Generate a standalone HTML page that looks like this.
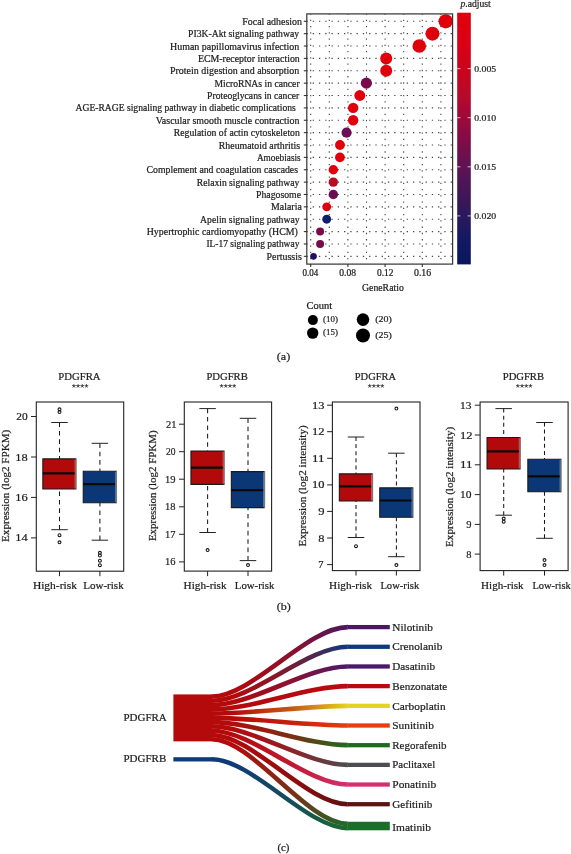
<!DOCTYPE html>
<html><head><meta charset="utf-8"><style>
html,body{margin:0;padding:0;background:#fff;width:571px;height:854px;overflow:hidden}
svg{display:block;font-family:"Liberation Serif", serif;will-change:transform}
</style></head><body>
<svg width="571" height="854" viewBox="0 0 571 854" font-family='"Liberation Serif", serif'><defs><linearGradient id="cb" x1="0" y1="0" x2="0" y2="1"><stop offset="0" stop-color="#e0000e"/><stop offset="0.11" stop-color="#dc0014"/><stop offset="0.22" stop-color="#cc041c"/><stop offset="0.32" stop-color="#b80a2a"/><stop offset="0.42" stop-color="#9c0a3a"/><stop offset="0.51" stop-color="#800c48"/><stop offset="0.61" stop-color="#601254"/><stop offset="0.71" stop-color="#441658"/><stop offset="0.81" stop-color="#2a185c"/><stop offset="0.9" stop-color="#141862"/><stop offset="1" stop-color="#08165e"/></linearGradient><linearGradient id="g0" gradientUnits="userSpaceOnUse" x1="212.0" y1="0" x2="347.5" y2="0"><stop offset="0" stop-color="#b40a0c"/><stop offset="0.15" stop-color="#b40a0c"/><stop offset="0.6" stop-color="#8a102e"/><stop offset="1" stop-color="#4a1862"/></linearGradient><linearGradient id="g1" gradientUnits="userSpaceOnUse" x1="212.0" y1="0" x2="347.5" y2="0"><stop offset="0" stop-color="#b40a0c"/><stop offset="0.15" stop-color="#b40a0c"/><stop offset="0.6" stop-color="#721d38"/><stop offset="1" stop-color="#0e3a7a"/></linearGradient><linearGradient id="g2" gradientUnits="userSpaceOnUse" x1="212.0" y1="0" x2="347.5" y2="0"><stop offset="0" stop-color="#b40a0c"/><stop offset="0.15" stop-color="#b40a0c"/><stop offset="0.6" stop-color="#8a1032"/><stop offset="1" stop-color="#4a1a6a"/></linearGradient><linearGradient id="g3" gradientUnits="userSpaceOnUse" x1="212.0" y1="0" x2="347.5" y2="0"><stop offset="0" stop-color="#b40a0c"/><stop offset="0.15" stop-color="#b40a0c"/><stop offset="0.6" stop-color="#b60a0e"/><stop offset="1" stop-color="#b80a10"/></linearGradient><linearGradient id="g4" gradientUnits="userSpaceOnUse" x1="212.0" y1="0" x2="347.5" y2="0"><stop offset="0" stop-color="#b40a0c"/><stop offset="0.15" stop-color="#b40a0c"/><stop offset="0.6" stop-color="#c65b13"/><stop offset="1" stop-color="#e2d41e"/></linearGradient><linearGradient id="g5" gradientUnits="userSpaceOnUse" x1="212.0" y1="0" x2="347.5" y2="0"><stop offset="0" stop-color="#b40a0c"/><stop offset="0.15" stop-color="#b40a0c"/><stop offset="0.6" stop-color="#ca1e0e"/><stop offset="1" stop-color="#ea3c10"/></linearGradient><linearGradient id="g6" gradientUnits="userSpaceOnUse" x1="212.0" y1="0" x2="347.5" y2="0"><stop offset="0" stop-color="#b40a0c"/><stop offset="0.15" stop-color="#b40a0c"/><stop offset="0.6" stop-color="#773112"/><stop offset="1" stop-color="#1c6c1c"/></linearGradient><linearGradient id="g7" gradientUnits="userSpaceOnUse" x1="212.0" y1="0" x2="347.5" y2="0"><stop offset="0" stop-color="#b40a0c"/><stop offset="0.15" stop-color="#b40a0c"/><stop offset="0.6" stop-color="#8a2428"/><stop offset="1" stop-color="#4c4c52"/></linearGradient><linearGradient id="g8" gradientUnits="userSpaceOnUse" x1="212.0" y1="0" x2="347.5" y2="0"><stop offset="0" stop-color="#b40a0c"/><stop offset="0.15" stop-color="#b40a0c"/><stop offset="0.6" stop-color="#c11933"/><stop offset="1" stop-color="#d4306e"/></linearGradient><linearGradient id="g9" gradientUnits="userSpaceOnUse" x1="212.0" y1="0" x2="347.5" y2="0"><stop offset="0" stop-color="#b40a0c"/><stop offset="0.15" stop-color="#b40a0c"/><stop offset="0.6" stop-color="#910d0e"/><stop offset="1" stop-color="#5c1210"/></linearGradient><linearGradient id="g10" gradientUnits="userSpaceOnUse" x1="212.0" y1="0" x2="347.5" y2="0"><stop offset="0" stop-color="#b40a0c"/><stop offset="0.15" stop-color="#b40a0c"/><stop offset="0.6" stop-color="#773118"/><stop offset="1" stop-color="#1c6c2a"/></linearGradient><linearGradient id="gb" gradientUnits="userSpaceOnUse" x1="212.0" y1="0" x2="347.5" y2="0"><stop offset="0" stop-color="#0e3a78"/><stop offset="0.15" stop-color="#0e3a78"/><stop offset="0.6" stop-color="#144e59"/><stop offset="1" stop-color="#1c6c2a"/></linearGradient></defs><line x1="310.70" y1="264.1" x2="310.70" y2="13.9" stroke="#444" stroke-width="1.1" stroke-dasharray="1.3 4.97" stroke-dashoffset="1.4"/>
<line x1="329.30" y1="264.1" x2="329.30" y2="13.9" stroke="#444" stroke-width="1.1" stroke-dasharray="1.3 4.97" stroke-dashoffset="1.4"/>
<line x1="347.90" y1="264.1" x2="347.90" y2="13.9" stroke="#444" stroke-width="1.1" stroke-dasharray="1.3 4.97" stroke-dashoffset="1.4"/>
<line x1="366.50" y1="264.1" x2="366.50" y2="13.9" stroke="#444" stroke-width="1.1" stroke-dasharray="1.3 4.97" stroke-dashoffset="1.4"/>
<line x1="385.10" y1="264.1" x2="385.10" y2="13.9" stroke="#444" stroke-width="1.1" stroke-dasharray="1.3 4.97" stroke-dashoffset="1.4"/>
<line x1="403.70" y1="264.1" x2="403.70" y2="13.9" stroke="#444" stroke-width="1.1" stroke-dasharray="1.3 4.97" stroke-dashoffset="1.4"/>
<line x1="422.30" y1="264.1" x2="422.30" y2="13.9" stroke="#444" stroke-width="1.1" stroke-dasharray="1.3 4.97" stroke-dashoffset="1.4"/>
<line x1="440.90" y1="264.1" x2="440.90" y2="13.9" stroke="#444" stroke-width="1.1" stroke-dasharray="1.3 4.97" stroke-dashoffset="1.4"/>
<line x1="306.8" y1="21.30" x2="452.6" y2="21.30" stroke="#444" stroke-width="1.1" stroke-dasharray="1.3 4.97" stroke-dashoffset="0.4"/>
<line x1="306.8" y1="33.67" x2="452.6" y2="33.67" stroke="#444" stroke-width="1.1" stroke-dasharray="1.3 4.97" stroke-dashoffset="0.4"/>
<line x1="306.8" y1="46.04" x2="452.6" y2="46.04" stroke="#444" stroke-width="1.1" stroke-dasharray="1.3 4.97" stroke-dashoffset="0.4"/>
<line x1="306.8" y1="58.41" x2="452.6" y2="58.41" stroke="#444" stroke-width="1.1" stroke-dasharray="1.3 4.97" stroke-dashoffset="0.4"/>
<line x1="306.8" y1="70.78" x2="452.6" y2="70.78" stroke="#444" stroke-width="1.1" stroke-dasharray="1.3 4.97" stroke-dashoffset="0.4"/>
<line x1="306.8" y1="83.15" x2="452.6" y2="83.15" stroke="#444" stroke-width="1.1" stroke-dasharray="1.3 4.97" stroke-dashoffset="0.4"/>
<line x1="306.8" y1="95.52" x2="452.6" y2="95.52" stroke="#444" stroke-width="1.1" stroke-dasharray="1.3 4.97" stroke-dashoffset="0.4"/>
<line x1="306.8" y1="107.89" x2="452.6" y2="107.89" stroke="#444" stroke-width="1.1" stroke-dasharray="1.3 4.97" stroke-dashoffset="0.4"/>
<line x1="306.8" y1="120.26" x2="452.6" y2="120.26" stroke="#444" stroke-width="1.1" stroke-dasharray="1.3 4.97" stroke-dashoffset="0.4"/>
<line x1="306.8" y1="132.63" x2="452.6" y2="132.63" stroke="#444" stroke-width="1.1" stroke-dasharray="1.3 4.97" stroke-dashoffset="0.4"/>
<line x1="306.8" y1="145.00" x2="452.6" y2="145.00" stroke="#444" stroke-width="1.1" stroke-dasharray="1.3 4.97" stroke-dashoffset="0.4"/>
<line x1="306.8" y1="157.37" x2="452.6" y2="157.37" stroke="#444" stroke-width="1.1" stroke-dasharray="1.3 4.97" stroke-dashoffset="0.4"/>
<line x1="306.8" y1="169.74" x2="452.6" y2="169.74" stroke="#444" stroke-width="1.1" stroke-dasharray="1.3 4.97" stroke-dashoffset="0.4"/>
<line x1="306.8" y1="182.11" x2="452.6" y2="182.11" stroke="#444" stroke-width="1.1" stroke-dasharray="1.3 4.97" stroke-dashoffset="0.4"/>
<line x1="306.8" y1="194.48" x2="452.6" y2="194.48" stroke="#444" stroke-width="1.1" stroke-dasharray="1.3 4.97" stroke-dashoffset="0.4"/>
<line x1="306.8" y1="206.85" x2="452.6" y2="206.85" stroke="#444" stroke-width="1.1" stroke-dasharray="1.3 4.97" stroke-dashoffset="0.4"/>
<line x1="306.8" y1="219.22" x2="452.6" y2="219.22" stroke="#444" stroke-width="1.1" stroke-dasharray="1.3 4.97" stroke-dashoffset="0.4"/>
<line x1="306.8" y1="231.59" x2="452.6" y2="231.59" stroke="#444" stroke-width="1.1" stroke-dasharray="1.3 4.97" stroke-dashoffset="0.4"/>
<line x1="306.8" y1="243.96" x2="452.6" y2="243.96" stroke="#444" stroke-width="1.1" stroke-dasharray="1.3 4.97" stroke-dashoffset="0.4"/>
<line x1="306.8" y1="256.33" x2="452.6" y2="256.33" stroke="#444" stroke-width="1.1" stroke-dasharray="1.3 4.97" stroke-dashoffset="0.4"/>
<circle cx="445.70" cy="21.30" r="7.15" fill="#e0000c"/>
<circle cx="432.48" cy="33.67" r="7.0" fill="#e0000c"/>
<circle cx="419.26" cy="46.04" r="6.8" fill="#e0000c"/>
<circle cx="386.21" cy="58.41" r="6.0" fill="#e0000c"/>
<circle cx="386.21" cy="70.78" r="6.0" fill="#e0000c"/>
<circle cx="366.38" cy="83.15" r="5.6" fill="#760a4a"/>
<circle cx="359.77" cy="95.52" r="5.45" fill="#e0000c"/>
<circle cx="353.16" cy="107.89" r="5.2" fill="#e0000c"/>
<circle cx="353.16" cy="120.26" r="5.2" fill="#e0000c"/>
<circle cx="346.55" cy="132.63" r="5.05" fill="#6a1054"/>
<circle cx="339.94" cy="145.00" r="4.9" fill="#e0000c"/>
<circle cx="339.94" cy="157.37" r="4.9" fill="#e0000c"/>
<circle cx="333.33" cy="169.74" r="4.7" fill="#e0000c"/>
<circle cx="333.33" cy="182.11" r="4.7" fill="#b80a22"/>
<circle cx="333.33" cy="194.48" r="4.7" fill="#6a0c52"/>
<circle cx="326.72" cy="206.85" r="4.45" fill="#e0000c"/>
<circle cx="326.72" cy="219.22" r="4.45" fill="#0c1f6e"/>
<circle cx="320.11" cy="231.59" r="4.0" fill="#760c4a"/>
<circle cx="320.11" cy="243.96" r="4.0" fill="#760c4a"/>
<circle cx="313.50" cy="256.33" r="3.35" fill="#22125e"/>
<rect x="306.8" y="13.9" width="145.80" height="250.20" fill="none" stroke="#333" stroke-width="1.2"/>
<line x1="303.8" y1="21.30" x2="306.8" y2="21.30" stroke="#333" stroke-width="1.1"/>
<text id="ra0" x="242.30" y="24.80" font-size="9.6" fill="#1e1e1e" stroke="#1e1e1e" stroke-width="0.22" textLength="59.60" lengthAdjust="spacingAndGlyphs" >Focal adhesion</text>
<line x1="303.8" y1="33.67" x2="306.8" y2="33.67" stroke="#333" stroke-width="1.1"/>
<text id="ra1" x="188.10" y="37.17" font-size="9.6" fill="#1e1e1e" stroke="#1e1e1e" stroke-width="0.22" textLength="110.90" lengthAdjust="spacingAndGlyphs" >PI3K-Akt signaling pathway</text>
<line x1="303.8" y1="46.04" x2="306.8" y2="46.04" stroke="#333" stroke-width="1.1"/>
<text id="ra2" x="170.00" y="49.54" font-size="9.6" fill="#1e1e1e" stroke="#1e1e1e" stroke-width="0.22" textLength="129.20" lengthAdjust="spacingAndGlyphs" >Human papillomavirus infection</text>
<line x1="303.8" y1="58.41" x2="306.8" y2="58.41" stroke="#333" stroke-width="1.1"/>
<text id="ra3" x="197.90" y="61.91" font-size="9.6" fill="#1e1e1e" stroke="#1e1e1e" stroke-width="0.22" textLength="101.90" lengthAdjust="spacingAndGlyphs" >ECM-receptor interaction</text>
<line x1="303.8" y1="70.78" x2="306.8" y2="70.78" stroke="#333" stroke-width="1.1"/>
<text id="ra4" x="170.00" y="74.28" font-size="9.6" fill="#1e1e1e" stroke="#1e1e1e" stroke-width="0.22" textLength="129.20" lengthAdjust="spacingAndGlyphs" >Protein digestion and absorption</text>
<line x1="303.8" y1="83.15" x2="306.8" y2="83.15" stroke="#333" stroke-width="1.1"/>
<text id="ra5" x="214.40" y="86.65" font-size="9.6" fill="#1e1e1e" stroke="#1e1e1e" stroke-width="0.22" textLength="85.20" lengthAdjust="spacingAndGlyphs" >MicroRNAs in cancer</text>
<line x1="303.8" y1="95.52" x2="306.8" y2="95.52" stroke="#333" stroke-width="1.1"/>
<text id="ra6" x="207.10" y="99.02" font-size="9.6" fill="#1e1e1e" stroke="#1e1e1e" stroke-width="0.22" textLength="92.10" lengthAdjust="spacingAndGlyphs" >Proteoglycans in cancer</text>
<line x1="303.8" y1="107.89" x2="306.8" y2="107.89" stroke="#333" stroke-width="1.1"/>
<text id="ra7" x="75.60" y="111.39" font-size="9.6" fill="#1e1e1e" stroke="#1e1e1e" stroke-width="0.22" textLength="220.10" lengthAdjust="spacingAndGlyphs" >AGE-RAGE signaling pathway in diabetic complications</text>
<line x1="303.8" y1="120.26" x2="306.8" y2="120.26" stroke="#333" stroke-width="1.1"/>
<text id="ra8" x="155.80" y="123.76" font-size="9.6" fill="#1e1e1e" stroke="#1e1e1e" stroke-width="0.22" textLength="143.60" lengthAdjust="spacingAndGlyphs" >Vascular smooth muscle contraction</text>
<line x1="303.8" y1="132.63" x2="306.8" y2="132.63" stroke="#333" stroke-width="1.1"/>
<text id="ra9" x="173.80" y="136.13" font-size="9.6" fill="#1e1e1e" stroke="#1e1e1e" stroke-width="0.22" textLength="126.00" lengthAdjust="spacingAndGlyphs" >Regulation of actin cytoskeleton</text>
<line x1="303.8" y1="145.00" x2="306.8" y2="145.00" stroke="#333" stroke-width="1.1"/>
<text id="ra10" x="218.80" y="148.50" font-size="9.6" fill="#1e1e1e" stroke="#1e1e1e" stroke-width="0.22" textLength="81.20" lengthAdjust="spacingAndGlyphs" >Rheumatoid arthritis</text>
<line x1="303.8" y1="157.37" x2="306.8" y2="157.37" stroke="#333" stroke-width="1.1"/>
<text id="ra11" x="256.90" y="160.87" font-size="9.6" fill="#1e1e1e" stroke="#1e1e1e" stroke-width="0.22" textLength="43.80" lengthAdjust="spacingAndGlyphs" >Amoebiasis</text>
<line x1="303.8" y1="169.74" x2="306.8" y2="169.74" stroke="#333" stroke-width="1.1"/>
<text id="ra12" x="146.60" y="173.24" font-size="9.6" fill="#1e1e1e" stroke="#1e1e1e" stroke-width="0.22" textLength="151.40" lengthAdjust="spacingAndGlyphs" >Complement and coagulation cascades</text>
<line x1="303.8" y1="182.11" x2="306.8" y2="182.11" stroke="#333" stroke-width="1.1"/>
<text id="ra13" x="196.80" y="185.61" font-size="9.6" fill="#1e1e1e" stroke="#1e1e1e" stroke-width="0.22" textLength="102.60" lengthAdjust="spacingAndGlyphs" >Relaxin signaling pathway</text>
<line x1="303.8" y1="194.48" x2="306.8" y2="194.48" stroke="#333" stroke-width="1.1"/>
<text id="ra14" x="256.00" y="197.98" font-size="9.6" fill="#1e1e1e" stroke="#1e1e1e" stroke-width="0.22" textLength="45.00" lengthAdjust="spacingAndGlyphs" >Phagosome</text>
<line x1="303.8" y1="206.85" x2="306.8" y2="206.85" stroke="#333" stroke-width="1.1"/>
<text id="ra15" x="271.10" y="210.35" font-size="9.6" fill="#1e1e1e" stroke="#1e1e1e" stroke-width="0.22" textLength="30.70" lengthAdjust="spacingAndGlyphs" >Malaria</text>
<line x1="303.8" y1="219.22" x2="306.8" y2="219.22" stroke="#333" stroke-width="1.1"/>
<text id="ra16" x="200.10" y="222.72" font-size="9.6" fill="#1e1e1e" stroke="#1e1e1e" stroke-width="0.22" textLength="99.50" lengthAdjust="spacingAndGlyphs" >Apelin signaling pathway</text>
<line x1="303.8" y1="231.59" x2="306.8" y2="231.59" stroke="#333" stroke-width="1.1"/>
<text id="ra17" x="146.70" y="235.09" font-size="9.6" fill="#1e1e1e" stroke="#1e1e1e" stroke-width="0.22" textLength="151.20" lengthAdjust="spacingAndGlyphs" >Hypertrophic cardiomyopathy (HCM)</text>
<line x1="303.8" y1="243.96" x2="306.8" y2="243.96" stroke="#333" stroke-width="1.1"/>
<text id="ra18" x="206.40" y="247.46" font-size="9.6" fill="#1e1e1e" stroke="#1e1e1e" stroke-width="0.22" textLength="93.00" lengthAdjust="spacingAndGlyphs" >IL-17 signaling pathway</text>
<line x1="303.8" y1="256.33" x2="306.8" y2="256.33" stroke="#333" stroke-width="1.1"/>
<text id="ra19" x="266.50" y="259.83" font-size="9.6" fill="#1e1e1e" stroke="#1e1e1e" stroke-width="0.22" textLength="35.30" lengthAdjust="spacingAndGlyphs" >Pertussis</text>
<line x1="310.70" y1="264.1" x2="310.70" y2="267.1" stroke="#333" stroke-width="1.1"/>
<text id="xt0" x="302.60" y="276.40" font-size="9.6" fill="#1e1e1e" stroke="#1e1e1e" stroke-width="0.22" textLength="15.80" lengthAdjust="spacingAndGlyphs" >0.04</text>
<line x1="347.90" y1="264.1" x2="347.90" y2="267.1" stroke="#333" stroke-width="1.1"/>
<text id="xt1" x="339.30" y="276.40" font-size="9.6" fill="#1e1e1e" stroke="#1e1e1e" stroke-width="0.22" textLength="16.80" lengthAdjust="spacingAndGlyphs" >0.08</text>
<line x1="385.10" y1="264.1" x2="385.10" y2="267.1" stroke="#333" stroke-width="1.1"/>
<text id="xt2" x="377.00" y="276.40" font-size="9.6" fill="#1e1e1e" stroke="#1e1e1e" stroke-width="0.22" textLength="16.50" lengthAdjust="spacingAndGlyphs" >0.12</text>
<line x1="422.30" y1="264.1" x2="422.30" y2="267.1" stroke="#333" stroke-width="1.1"/>
<text id="xt3" x="414.00" y="276.40" font-size="9.6" fill="#1e1e1e" stroke="#1e1e1e" stroke-width="0.22" textLength="17.20" lengthAdjust="spacingAndGlyphs" >0.16</text>
<text id="gr" x="362.00" y="290.90" font-size="9.6" fill="#1e1e1e" stroke="#1e1e1e" stroke-width="0.22" textLength="41.80" lengthAdjust="spacingAndGlyphs" >GeneRatio</text>
<rect x="457.2" y="12.7" width="13.6" height="251.70" fill="url(#cb)"/>
<line x1="457.2" y1="68.6" x2="460.4" y2="68.6" stroke="#fff" stroke-width="0.9" opacity="0.8"/>
<line x1="467.6" y1="68.6" x2="470.8" y2="68.6" stroke="#fff" stroke-width="0.9" opacity="0.8"/>
<text id="cb0" x="474.20" y="72.00" font-size="9.0" fill="#1e1e1e" stroke="#1e1e1e" stroke-width="0.22" textLength="22.00" lengthAdjust="spacingAndGlyphs" >0.005</text>
<line x1="457.2" y1="117.7" x2="460.4" y2="117.7" stroke="#fff" stroke-width="0.9" opacity="0.8"/>
<line x1="467.6" y1="117.7" x2="470.8" y2="117.7" stroke="#fff" stroke-width="0.9" opacity="0.8"/>
<text id="cb1" x="474.20" y="121.10" font-size="9.0" fill="#1e1e1e" stroke="#1e1e1e" stroke-width="0.22" textLength="22.00" lengthAdjust="spacingAndGlyphs" >0.010</text>
<line x1="457.2" y1="166.8" x2="460.4" y2="166.8" stroke="#fff" stroke-width="0.9" opacity="0.8"/>
<line x1="467.6" y1="166.8" x2="470.8" y2="166.8" stroke="#fff" stroke-width="0.9" opacity="0.8"/>
<text id="cb2" x="474.20" y="170.20" font-size="9.0" fill="#1e1e1e" stroke="#1e1e1e" stroke-width="0.22" textLength="22.00" lengthAdjust="spacingAndGlyphs" >0.015</text>
<line x1="457.2" y1="215.9" x2="460.4" y2="215.9" stroke="#fff" stroke-width="0.9" opacity="0.8"/>
<line x1="467.6" y1="215.9" x2="470.8" y2="215.9" stroke="#fff" stroke-width="0.9" opacity="0.8"/>
<text id="cb3" x="474.20" y="219.30" font-size="9.0" fill="#1e1e1e" stroke="#1e1e1e" stroke-width="0.22" textLength="22.00" lengthAdjust="spacingAndGlyphs" >0.020</text>
<text id="padj" x="460.50" y="6.80" font-size="9.8" fill="#1e1e1e" stroke="#1e1e1e" stroke-width="0.22" textLength="30.30" lengthAdjust="spacingAndGlyphs" ><tspan font-style="italic">p</tspan>.adjust</text>
<text id="count" x="306.60" y="309.00" font-size="9.6" fill="#1e1e1e" stroke="#1e1e1e" stroke-width="0.22" textLength="25.50" lengthAdjust="spacingAndGlyphs" >Count</text>
<circle cx="312.9" cy="320.1" r="5.0" fill="#000"/>
<text id="lg0" x="323.10" y="322.30" font-size="9.0" fill="#1e1e1e" stroke="#1e1e1e" stroke-width="0.22" textLength="14.90" lengthAdjust="spacingAndGlyphs" >(10)</text>
<circle cx="312.7" cy="333.1" r="5.7" fill="#000"/>
<text id="lg1" x="323.10" y="335.30" font-size="9.0" fill="#1e1e1e" stroke="#1e1e1e" stroke-width="0.22" textLength="14.90" lengthAdjust="spacingAndGlyphs" >(15)</text>
<circle cx="363.0" cy="319.6" r="6.3" fill="#000"/>
<text id="lg2" x="375.30" y="321.80" font-size="9.0" fill="#1e1e1e" stroke="#1e1e1e" stroke-width="0.22" textLength="16.60" lengthAdjust="spacingAndGlyphs" >(20)</text>
<circle cx="363.0" cy="335.5" r="7.0" fill="#000"/>
<text id="lg3" x="375.30" y="337.70" font-size="9.0" fill="#1e1e1e" stroke="#1e1e1e" stroke-width="0.22" textLength="16.60" lengthAdjust="spacingAndGlyphs" >(25)</text>
<text id="pa" x="276.80" y="359.60" font-size="11.3" fill="#1e1e1e" stroke="#1e1e1e" stroke-width="0.22" textLength="13.40" lengthAdjust="spacingAndGlyphs" >(a)</text>
<text id="t0" x="58.30" y="379.70" font-size="10.6" fill="#1e1e1e" stroke="#1e1e1e" stroke-width="0.22" textLength="42.30" lengthAdjust="spacingAndGlyphs" >PDGFRA</text>
<path d="M73.85,386.00L73.85,384.45M73.85,386.00L75.32,385.52M73.85,386.00L74.76,387.25M73.85,386.00L72.94,387.25M73.85,386.00L72.38,385.52" stroke="#3a3a3a" stroke-width="0.85" stroke-linecap="round" fill="none"/>
<path d="M78.05,386.00L78.05,384.45M78.05,386.00L79.52,385.52M78.05,386.00L78.96,387.25M78.05,386.00L77.14,387.25M78.05,386.00L76.58,385.52" stroke="#3a3a3a" stroke-width="0.85" stroke-linecap="round" fill="none"/>
<path d="M82.25,386.00L82.25,384.45M82.25,386.00L83.72,385.52M82.25,386.00L83.16,387.25M82.25,386.00L81.34,387.25M82.25,386.00L80.78,385.52" stroke="#3a3a3a" stroke-width="0.85" stroke-linecap="round" fill="none"/>
<path d="M86.45,386.00L86.45,384.45M86.45,386.00L87.92,385.52M86.45,386.00L87.36,387.25M86.45,386.00L85.54,387.25M86.45,386.00L84.98,385.52" stroke="#3a3a3a" stroke-width="0.85" stroke-linecap="round" fill="none"/>
<line x1="59.5" y1="422.5" x2="59.5" y2="458.9" stroke="#1a1a1a" stroke-width="1.05" stroke-dasharray="4.6 3.8"/>
<line x1="59.5" y1="529.7" x2="59.5" y2="489.0" stroke="#1a1a1a" stroke-width="1.05" stroke-dasharray="4.6 3.8"/>
<line x1="51.25" y1="422.5" x2="67.75" y2="422.5" stroke="#222" stroke-width="1"/>
<line x1="51.25" y1="529.7" x2="67.75" y2="529.7" stroke="#222" stroke-width="1"/>
<rect x="42.85" y="458.9" width="33.3" height="30.10" fill="#b20a0b"/>
<path d="M76.15,458.9H42.85V489.0H76.15" fill="none" stroke="#1a1a1a" stroke-width="1.1"/>
<line x1="76.15" y1="458.4" x2="76.15" y2="489.5" stroke="#777" stroke-width="1.0"/>
<line x1="75.05" y1="459.50" x2="75.05" y2="488.40" stroke="#fff" stroke-width="0.7" opacity="0.45"/>
<line x1="42.85" y1="473.4" x2="74.65" y2="473.4" stroke="#0a0a0a" stroke-width="2.2"/>
<circle cx="59.5" cy="409.3" r="1.45" fill="none" stroke="#1a1a1a" stroke-width="1.1"/>
<circle cx="59.5" cy="412.1" r="1.45" fill="none" stroke="#1a1a1a" stroke-width="1.1"/>
<circle cx="59.5" cy="535.2" r="1.45" fill="none" stroke="#1a1a1a" stroke-width="1.1"/>
<circle cx="59.5" cy="542.3" r="1.45" fill="none" stroke="#1a1a1a" stroke-width="1.1"/>
<line x1="99.9" y1="443.3" x2="99.9" y2="471.3" stroke="#1a1a1a" stroke-width="1.05" stroke-dasharray="4.6 3.8"/>
<line x1="99.9" y1="540.2" x2="99.9" y2="502.7" stroke="#1a1a1a" stroke-width="1.05" stroke-dasharray="4.6 3.8"/>
<line x1="91.65" y1="443.3" x2="108.15" y2="443.3" stroke="#222" stroke-width="1"/>
<line x1="91.65" y1="540.2" x2="108.15" y2="540.2" stroke="#222" stroke-width="1"/>
<rect x="83.25" y="471.3" width="33.3" height="31.40" fill="#0c3776"/>
<path d="M116.55,471.3H83.25V502.7H116.55" fill="none" stroke="#1a1a1a" stroke-width="1.1"/>
<line x1="116.55" y1="470.8" x2="116.55" y2="503.2" stroke="#777" stroke-width="1.0"/>
<line x1="115.45" y1="471.90" x2="115.45" y2="502.10" stroke="#fff" stroke-width="0.7" opacity="0.45"/>
<line x1="83.25" y1="484.1" x2="115.05" y2="484.1" stroke="#0a0a0a" stroke-width="2.2"/>
<circle cx="99.9" cy="552.8" r="1.45" fill="none" stroke="#1a1a1a" stroke-width="1.1"/>
<circle cx="99.9" cy="555.5" r="1.45" fill="none" stroke="#1a1a1a" stroke-width="1.1"/>
<circle cx="99.9" cy="560.7" r="1.45" fill="none" stroke="#1a1a1a" stroke-width="1.1"/>
<circle cx="99.9" cy="565.2" r="1.45" fill="none" stroke="#1a1a1a" stroke-width="1.1"/>
<rect x="36.3" y="402" width="87.40" height="169.20" fill="none" stroke="#222" stroke-width="1.1"/>
<line x1="30.999999999999996" y1="537.9" x2="36.3" y2="537.9" stroke="#222" stroke-width="1"/>
<text id="tk0_0" x="15.20" y="541.40" font-size="11.2" fill="#1e1e1e" stroke="#1e1e1e" stroke-width="0.22" textLength="12.40" lengthAdjust="spacingAndGlyphs" >14</text>
<line x1="30.999999999999996" y1="497.4" x2="36.3" y2="497.4" stroke="#222" stroke-width="1"/>
<text id="tk0_1" x="15.20" y="500.90" font-size="11.2" fill="#1e1e1e" stroke="#1e1e1e" stroke-width="0.22" textLength="12.40" lengthAdjust="spacingAndGlyphs" >16</text>
<line x1="30.999999999999996" y1="457.0" x2="36.3" y2="457.0" stroke="#222" stroke-width="1"/>
<text id="tk0_2" x="15.20" y="460.50" font-size="11.2" fill="#1e1e1e" stroke="#1e1e1e" stroke-width="0.22" textLength="12.40" lengthAdjust="spacingAndGlyphs" >18</text>
<line x1="30.999999999999996" y1="416.5" x2="36.3" y2="416.5" stroke="#222" stroke-width="1"/>
<text id="tk0_3" x="16.20" y="420.00" font-size="11.2" fill="#1e1e1e" stroke="#1e1e1e" stroke-width="0.22" textLength="11.40" lengthAdjust="spacingAndGlyphs" >20</text>
<line x1="59.5" y1="571.2" x2="59.5" y2="576.2" stroke="#222" stroke-width="1"/>
<line x1="99.9" y1="571.2" x2="99.9" y2="576.2" stroke="#222" stroke-width="1"/>
<text id="hr0" x="32.90" y="589.30" font-size="10.8" fill="#1e1e1e" stroke="#1e1e1e" stroke-width="0.22" textLength="44.00" lengthAdjust="spacingAndGlyphs" >High-risk</text>
<text id="lr0" x="83.20" y="589.30" font-size="10.8" fill="#1e1e1e" stroke="#1e1e1e" stroke-width="0.22" textLength="40.50" lengthAdjust="spacingAndGlyphs" >Low-risk</text>
<text id="yl0" x="0" y="0" font-size="10.5" fill="#1e1e1e" stroke="#1e1e1e" stroke-width="0.22" textLength="112.10" lengthAdjust="spacingAndGlyphs" transform="translate(8.80,541.90) rotate(-90)">Expression (log2 FPKM)</text>
<text id="t1" x="206.40" y="379.70" font-size="10.6" fill="#1e1e1e" stroke="#1e1e1e" stroke-width="0.22" textLength="41.40" lengthAdjust="spacingAndGlyphs" >PDGFRB</text>
<path d="M221.60,386.00L221.60,384.45M221.60,386.00L223.07,385.52M221.60,386.00L222.51,387.25M221.60,386.00L220.69,387.25M221.60,386.00L220.13,385.52" stroke="#3a3a3a" stroke-width="0.85" stroke-linecap="round" fill="none"/>
<path d="M225.80,386.00L225.80,384.45M225.80,386.00L227.27,385.52M225.80,386.00L226.71,387.25M225.80,386.00L224.89,387.25M225.80,386.00L224.33,385.52" stroke="#3a3a3a" stroke-width="0.85" stroke-linecap="round" fill="none"/>
<path d="M230.00,386.00L230.00,384.45M230.00,386.00L231.47,385.52M230.00,386.00L230.91,387.25M230.00,386.00L229.09,387.25M230.00,386.00L228.53,385.52" stroke="#3a3a3a" stroke-width="0.85" stroke-linecap="round" fill="none"/>
<path d="M234.20,386.00L234.20,384.45M234.20,386.00L235.67,385.52M234.20,386.00L235.11,387.25M234.20,386.00L233.29,387.25M234.20,386.00L232.73,385.52" stroke="#3a3a3a" stroke-width="0.85" stroke-linecap="round" fill="none"/>
<line x1="207.6" y1="408.6" x2="207.6" y2="451.1" stroke="#1a1a1a" stroke-width="1.05" stroke-dasharray="4.6 3.8"/>
<line x1="207.6" y1="532.5" x2="207.6" y2="484.4" stroke="#1a1a1a" stroke-width="1.05" stroke-dasharray="4.6 3.8"/>
<line x1="199.35" y1="408.6" x2="215.85" y2="408.6" stroke="#222" stroke-width="1"/>
<line x1="199.35" y1="532.5" x2="215.85" y2="532.5" stroke="#222" stroke-width="1"/>
<rect x="190.95" y="451.1" width="33.3" height="33.30" fill="#b20a0b"/>
<path d="M224.25,451.1H190.95V484.4H224.25" fill="none" stroke="#1a1a1a" stroke-width="1.1"/>
<line x1="224.25" y1="450.6" x2="224.25" y2="484.9" stroke="#777" stroke-width="1.0"/>
<line x1="223.15" y1="451.70" x2="223.15" y2="483.80" stroke="#fff" stroke-width="0.7" opacity="0.45"/>
<line x1="190.95" y1="467.7" x2="222.75" y2="467.7" stroke="#0a0a0a" stroke-width="2.2"/>
<circle cx="207.6" cy="550.1" r="1.45" fill="none" stroke="#1a1a1a" stroke-width="1.1"/>
<line x1="248.0" y1="418.3" x2="248.0" y2="471.6" stroke="#1a1a1a" stroke-width="1.05" stroke-dasharray="4.6 3.8"/>
<line x1="248.0" y1="560.6" x2="248.0" y2="507.6" stroke="#1a1a1a" stroke-width="1.05" stroke-dasharray="4.6 3.8"/>
<line x1="239.75" y1="418.3" x2="256.25" y2="418.3" stroke="#222" stroke-width="1"/>
<line x1="239.75" y1="560.6" x2="256.25" y2="560.6" stroke="#222" stroke-width="1"/>
<rect x="231.35" y="471.6" width="33.3" height="36.00" fill="#0c3776"/>
<path d="M264.65,471.6H231.35V507.6H264.65" fill="none" stroke="#1a1a1a" stroke-width="1.1"/>
<line x1="264.65" y1="471.1" x2="264.65" y2="508.1" stroke="#777" stroke-width="1.0"/>
<line x1="263.55" y1="472.20" x2="263.55" y2="507.00" stroke="#fff" stroke-width="0.7" opacity="0.45"/>
<line x1="231.35" y1="490.2" x2="263.15" y2="490.2" stroke="#0a0a0a" stroke-width="2.2"/>
<circle cx="248.0" cy="565.1" r="1.45" fill="none" stroke="#1a1a1a" stroke-width="1.1"/>
<rect x="184.3" y="402" width="87.30" height="169.10" fill="none" stroke="#222" stroke-width="1.1"/>
<line x1="179.0" y1="561.9" x2="184.3" y2="561.9" stroke="#222" stroke-width="1"/>
<text id="tk1_0" x="165.00" y="565.40" font-size="11.2" fill="#1e1e1e" stroke="#1e1e1e" stroke-width="0.22" textLength="10.50" lengthAdjust="spacingAndGlyphs" >16</text>
<line x1="179.0" y1="534.3" x2="184.3" y2="534.3" stroke="#222" stroke-width="1"/>
<text id="tk1_1" x="165.00" y="537.80" font-size="11.2" fill="#1e1e1e" stroke="#1e1e1e" stroke-width="0.22" textLength="10.50" lengthAdjust="spacingAndGlyphs" >17</text>
<line x1="179.0" y1="506.8" x2="184.3" y2="506.8" stroke="#222" stroke-width="1"/>
<text id="tk1_2" x="165.00" y="510.30" font-size="11.2" fill="#1e1e1e" stroke="#1e1e1e" stroke-width="0.22" textLength="10.50" lengthAdjust="spacingAndGlyphs" >18</text>
<line x1="179.0" y1="479.2" x2="184.3" y2="479.2" stroke="#222" stroke-width="1"/>
<text id="tk1_3" x="165.00" y="482.70" font-size="11.2" fill="#1e1e1e" stroke="#1e1e1e" stroke-width="0.22" textLength="10.50" lengthAdjust="spacingAndGlyphs" >19</text>
<line x1="179.0" y1="451.7" x2="184.3" y2="451.7" stroke="#222" stroke-width="1"/>
<text id="tk1_4" x="166.00" y="455.20" font-size="11.2" fill="#1e1e1e" stroke="#1e1e1e" stroke-width="0.22" textLength="9.50" lengthAdjust="spacingAndGlyphs" >20</text>
<line x1="179.0" y1="424.2" x2="184.3" y2="424.2" stroke="#222" stroke-width="1"/>
<text id="tk1_5" x="166.00" y="427.70" font-size="11.2" fill="#1e1e1e" stroke="#1e1e1e" stroke-width="0.22" textLength="10.50" lengthAdjust="spacingAndGlyphs" >21</text>
<line x1="207.6" y1="571.1" x2="207.6" y2="576.1" stroke="#222" stroke-width="1"/>
<line x1="248.0" y1="571.1" x2="248.0" y2="576.1" stroke="#222" stroke-width="1"/>
<text id="hr1" x="183.60" y="589.30" font-size="10.8" fill="#1e1e1e" stroke="#1e1e1e" stroke-width="0.22" textLength="43.00" lengthAdjust="spacingAndGlyphs" >High-risk</text>
<text id="lr1" x="234.80" y="589.30" font-size="10.8" fill="#1e1e1e" stroke="#1e1e1e" stroke-width="0.22" textLength="39.50" lengthAdjust="spacingAndGlyphs" >Low-risk</text>
<text id="yl1" x="0" y="0" font-size="10.5" fill="#1e1e1e" stroke="#1e1e1e" stroke-width="0.22" textLength="110.70" lengthAdjust="spacingAndGlyphs" transform="translate(156.10,541.10) rotate(-90)">Expression (log2 FPKM)</text>
<text id="t2" x="354.80" y="379.70" font-size="10.6" fill="#1e1e1e" stroke="#1e1e1e" stroke-width="0.22" textLength="41.20" lengthAdjust="spacingAndGlyphs" >PDGFRA</text>
<path d="M369.70,386.00L369.70,384.45M369.70,386.00L371.17,385.52M369.70,386.00L370.61,387.25M369.70,386.00L368.79,387.25M369.70,386.00L368.23,385.52" stroke="#3a3a3a" stroke-width="0.85" stroke-linecap="round" fill="none"/>
<path d="M373.90,386.00L373.90,384.45M373.90,386.00L375.37,385.52M373.90,386.00L374.81,387.25M373.90,386.00L372.99,387.25M373.90,386.00L372.43,385.52" stroke="#3a3a3a" stroke-width="0.85" stroke-linecap="round" fill="none"/>
<path d="M378.10,386.00L378.10,384.45M378.10,386.00L379.57,385.52M378.10,386.00L379.01,387.25M378.10,386.00L377.19,387.25M378.10,386.00L376.63,385.52" stroke="#3a3a3a" stroke-width="0.85" stroke-linecap="round" fill="none"/>
<path d="M382.30,386.00L382.30,384.45M382.30,386.00L383.77,385.52M382.30,386.00L383.21,387.25M382.30,386.00L381.39,387.25M382.30,386.00L380.83,385.52" stroke="#3a3a3a" stroke-width="0.85" stroke-linecap="round" fill="none"/>
<line x1="356.0" y1="437.0" x2="356.0" y2="473.9" stroke="#1a1a1a" stroke-width="1.05" stroke-dasharray="4.0 3.1"/>
<line x1="356.0" y1="537.5" x2="356.0" y2="501.0" stroke="#1a1a1a" stroke-width="1.05" stroke-dasharray="4.0 3.1"/>
<line x1="347.75" y1="437.0" x2="364.25" y2="437.0" stroke="#222" stroke-width="1"/>
<line x1="347.75" y1="537.5" x2="364.25" y2="537.5" stroke="#222" stroke-width="1"/>
<rect x="339.35" y="473.9" width="33.3" height="27.10" fill="#b20a0b"/>
<path d="M372.65,473.9H339.35V501.0H372.65" fill="none" stroke="#1a1a1a" stroke-width="1.1"/>
<line x1="372.65" y1="473.4" x2="372.65" y2="501.5" stroke="#777" stroke-width="1.0"/>
<line x1="371.55" y1="474.50" x2="371.55" y2="500.40" stroke="#fff" stroke-width="0.7" opacity="0.45"/>
<line x1="339.35" y1="486.3" x2="371.15" y2="486.3" stroke="#0a0a0a" stroke-width="2.2"/>
<circle cx="356.0" cy="546.2" r="1.45" fill="none" stroke="#1a1a1a" stroke-width="1.1"/>
<line x1="396.4" y1="453.2" x2="396.4" y2="487.9" stroke="#1a1a1a" stroke-width="1.05" stroke-dasharray="4.0 3.1"/>
<line x1="396.4" y1="556.7" x2="396.4" y2="517.3" stroke="#1a1a1a" stroke-width="1.05" stroke-dasharray="4.0 3.1"/>
<line x1="388.15" y1="453.2" x2="404.65" y2="453.2" stroke="#222" stroke-width="1"/>
<line x1="388.15" y1="556.7" x2="404.65" y2="556.7" stroke="#222" stroke-width="1"/>
<rect x="379.75" y="487.9" width="33.3" height="29.40" fill="#0c3776"/>
<path d="M413.05,487.9H379.75V517.3H413.05" fill="none" stroke="#1a1a1a" stroke-width="1.1"/>
<line x1="413.05" y1="487.4" x2="413.05" y2="517.8" stroke="#777" stroke-width="1.0"/>
<line x1="411.95" y1="488.50" x2="411.95" y2="516.70" stroke="#fff" stroke-width="0.7" opacity="0.45"/>
<line x1="379.75" y1="500.5" x2="411.55" y2="500.5" stroke="#0a0a0a" stroke-width="2.2"/>
<circle cx="396.4" cy="408.6" r="1.45" fill="none" stroke="#1a1a1a" stroke-width="1.1"/>
<circle cx="396.4" cy="565.1" r="1.45" fill="none" stroke="#1a1a1a" stroke-width="1.1"/>
<rect x="332.4" y="402" width="87.60" height="168.60" fill="none" stroke="#222" stroke-width="1.1"/>
<line x1="327.09999999999997" y1="564.6" x2="332.4" y2="564.6" stroke="#222" stroke-width="1"/>
<text id="tk2_0" x="318.15" y="568.10" font-size="11.2" fill="#1e1e1e" stroke="#1e1e1e" stroke-width="0.22" textLength="5.25" lengthAdjust="spacingAndGlyphs" >7</text>
<line x1="327.09999999999997" y1="538.0" x2="332.4" y2="538.0" stroke="#222" stroke-width="1"/>
<text id="tk2_1" x="318.15" y="541.50" font-size="11.2" fill="#1e1e1e" stroke="#1e1e1e" stroke-width="0.22" textLength="6.25" lengthAdjust="spacingAndGlyphs" >8</text>
<line x1="327.09999999999997" y1="511.4" x2="332.4" y2="511.4" stroke="#222" stroke-width="1"/>
<text id="tk2_2" x="318.15" y="514.90" font-size="11.2" fill="#1e1e1e" stroke="#1e1e1e" stroke-width="0.22" textLength="6.25" lengthAdjust="spacingAndGlyphs" >9</text>
<line x1="327.09999999999997" y1="484.9" x2="332.4" y2="484.9" stroke="#222" stroke-width="1"/>
<text id="tk2_3" x="311.90" y="488.40" font-size="11.2" fill="#1e1e1e" stroke="#1e1e1e" stroke-width="0.22" textLength="12.50" lengthAdjust="spacingAndGlyphs" >10</text>
<line x1="327.09999999999997" y1="458.3" x2="332.4" y2="458.3" stroke="#222" stroke-width="1"/>
<text id="tk2_4" x="311.90" y="461.80" font-size="11.2" fill="#1e1e1e" stroke="#1e1e1e" stroke-width="0.22" textLength="12.50" lengthAdjust="spacingAndGlyphs" >11</text>
<line x1="327.09999999999997" y1="431.7" x2="332.4" y2="431.7" stroke="#222" stroke-width="1"/>
<text id="tk2_5" x="311.90" y="435.20" font-size="11.2" fill="#1e1e1e" stroke="#1e1e1e" stroke-width="0.22" textLength="12.50" lengthAdjust="spacingAndGlyphs" >12</text>
<line x1="327.09999999999997" y1="405.2" x2="332.4" y2="405.2" stroke="#222" stroke-width="1"/>
<text id="tk2_6" x="311.90" y="408.70" font-size="11.2" fill="#1e1e1e" stroke="#1e1e1e" stroke-width="0.22" textLength="12.50" lengthAdjust="spacingAndGlyphs" >13</text>
<line x1="356.0" y1="570.6" x2="356.0" y2="575.6" stroke="#222" stroke-width="1"/>
<line x1="396.4" y1="570.6" x2="396.4" y2="575.6" stroke="#222" stroke-width="1"/>
<text id="hr2" x="329.10" y="589.30" font-size="10.8" fill="#1e1e1e" stroke="#1e1e1e" stroke-width="0.22" textLength="43.00" lengthAdjust="spacingAndGlyphs" >High-risk</text>
<text id="lr2" x="380.40" y="589.30" font-size="10.8" fill="#1e1e1e" stroke="#1e1e1e" stroke-width="0.22" textLength="38.90" lengthAdjust="spacingAndGlyphs" >Low-risk</text>
<text id="yl2" x="0" y="0" font-size="10.5" fill="#1e1e1e" stroke="#1e1e1e" stroke-width="0.22" textLength="121.20" lengthAdjust="spacingAndGlyphs" transform="translate(305.90,546.40) rotate(-90)">Expression (log2 intensity)</text>
<text id="t3" x="502.80" y="379.70" font-size="10.6" fill="#1e1e1e" stroke="#1e1e1e" stroke-width="0.22" textLength="41.20" lengthAdjust="spacingAndGlyphs" >PDGFRB</text>
<path d="M517.85,386.00L517.85,384.45M517.85,386.00L519.32,385.52M517.85,386.00L518.76,387.25M517.85,386.00L516.94,387.25M517.85,386.00L516.38,385.52" stroke="#3a3a3a" stroke-width="0.85" stroke-linecap="round" fill="none"/>
<path d="M522.05,386.00L522.05,384.45M522.05,386.00L523.52,385.52M522.05,386.00L522.96,387.25M522.05,386.00L521.14,387.25M522.05,386.00L520.58,385.52" stroke="#3a3a3a" stroke-width="0.85" stroke-linecap="round" fill="none"/>
<path d="M526.25,386.00L526.25,384.45M526.25,386.00L527.72,385.52M526.25,386.00L527.16,387.25M526.25,386.00L525.34,387.25M526.25,386.00L524.78,385.52" stroke="#3a3a3a" stroke-width="0.85" stroke-linecap="round" fill="none"/>
<path d="M530.45,386.00L530.45,384.45M530.45,386.00L531.92,385.52M530.45,386.00L531.36,387.25M530.45,386.00L529.54,387.25M530.45,386.00L528.98,385.52" stroke="#3a3a3a" stroke-width="0.85" stroke-linecap="round" fill="none"/>
<line x1="503.7" y1="408.6" x2="503.7" y2="437.5" stroke="#1a1a1a" stroke-width="1.05" stroke-dasharray="4.0 3.1"/>
<line x1="503.7" y1="515.2" x2="503.7" y2="469.0" stroke="#1a1a1a" stroke-width="1.05" stroke-dasharray="4.0 3.1"/>
<line x1="495.45" y1="408.6" x2="511.95" y2="408.6" stroke="#222" stroke-width="1"/>
<line x1="495.45" y1="515.2" x2="511.95" y2="515.2" stroke="#222" stroke-width="1"/>
<rect x="487.05" y="437.5" width="33.3" height="31.50" fill="#b20a0b"/>
<path d="M520.35,437.5H487.05V469.0H520.35" fill="none" stroke="#1a1a1a" stroke-width="1.1"/>
<line x1="520.35" y1="437.0" x2="520.35" y2="469.5" stroke="#777" stroke-width="1.0"/>
<line x1="519.25" y1="438.10" x2="519.25" y2="468.40" stroke="#fff" stroke-width="0.7" opacity="0.45"/>
<line x1="487.05" y1="451.4" x2="518.85" y2="451.4" stroke="#0a0a0a" stroke-width="2.2"/>
<circle cx="503.7" cy="518.6" r="1.45" fill="none" stroke="#1a1a1a" stroke-width="1.1"/>
<circle cx="503.7" cy="521.7" r="1.45" fill="none" stroke="#1a1a1a" stroke-width="1.1"/>
<line x1="544.5" y1="422.5" x2="544.5" y2="459.3" stroke="#1a1a1a" stroke-width="1.05" stroke-dasharray="4.0 3.1"/>
<line x1="544.5" y1="538.3" x2="544.5" y2="491.8" stroke="#1a1a1a" stroke-width="1.05" stroke-dasharray="4.0 3.1"/>
<line x1="536.25" y1="422.5" x2="552.75" y2="422.5" stroke="#222" stroke-width="1"/>
<line x1="536.25" y1="538.3" x2="552.75" y2="538.3" stroke="#222" stroke-width="1"/>
<rect x="527.85" y="459.3" width="33.3" height="32.50" fill="#0c3776"/>
<path d="M561.15,459.3H527.85V491.8H561.15" fill="none" stroke="#1a1a1a" stroke-width="1.1"/>
<line x1="561.15" y1="458.8" x2="561.15" y2="492.3" stroke="#777" stroke-width="1.0"/>
<line x1="560.05" y1="459.90" x2="560.05" y2="491.20" stroke="#fff" stroke-width="0.7" opacity="0.45"/>
<line x1="527.85" y1="476.4" x2="559.65" y2="476.4" stroke="#0a0a0a" stroke-width="2.2"/>
<circle cx="544.5" cy="560.1" r="1.45" fill="none" stroke="#1a1a1a" stroke-width="1.1"/>
<circle cx="544.5" cy="565.1" r="1.45" fill="none" stroke="#1a1a1a" stroke-width="1.1"/>
<rect x="480.1" y="402" width="88.00" height="168.60" fill="none" stroke="#222" stroke-width="1.1"/>
<line x1="474.8" y1="554.1" x2="480.1" y2="554.1" stroke="#222" stroke-width="1"/>
<text id="tk3_0" x="466.25" y="557.60" font-size="11.2" fill="#1e1e1e" stroke="#1e1e1e" stroke-width="0.22" textLength="5.25" lengthAdjust="spacingAndGlyphs" >8</text>
<line x1="474.8" y1="524.4" x2="480.1" y2="524.4" stroke="#222" stroke-width="1"/>
<text id="tk3_1" x="466.25" y="527.90" font-size="11.2" fill="#1e1e1e" stroke="#1e1e1e" stroke-width="0.22" textLength="5.25" lengthAdjust="spacingAndGlyphs" >9</text>
<line x1="474.8" y1="494.6" x2="480.1" y2="494.6" stroke="#222" stroke-width="1"/>
<text id="tk3_2" x="460.00" y="498.10" font-size="11.2" fill="#1e1e1e" stroke="#1e1e1e" stroke-width="0.22" textLength="11.50" lengthAdjust="spacingAndGlyphs" >10</text>
<line x1="474.8" y1="464.8" x2="480.1" y2="464.8" stroke="#222" stroke-width="1"/>
<text id="tk3_3" x="460.00" y="468.30" font-size="11.2" fill="#1e1e1e" stroke="#1e1e1e" stroke-width="0.22" textLength="12.50" lengthAdjust="spacingAndGlyphs" >11</text>
<line x1="474.8" y1="435.0" x2="480.1" y2="435.0" stroke="#222" stroke-width="1"/>
<text id="tk3_4" x="460.00" y="438.50" font-size="11.2" fill="#1e1e1e" stroke="#1e1e1e" stroke-width="0.22" textLength="12.50" lengthAdjust="spacingAndGlyphs" >12</text>
<line x1="474.8" y1="405.2" x2="480.1" y2="405.2" stroke="#222" stroke-width="1"/>
<text id="tk3_5" x="460.00" y="408.70" font-size="11.2" fill="#1e1e1e" stroke="#1e1e1e" stroke-width="0.22" textLength="11.50" lengthAdjust="spacingAndGlyphs" >13</text>
<line x1="503.7" y1="570.6" x2="503.7" y2="575.6" stroke="#222" stroke-width="1"/>
<line x1="544.5" y1="570.6" x2="544.5" y2="575.6" stroke="#222" stroke-width="1"/>
<text id="hr3" x="481.10" y="589.30" font-size="10.8" fill="#1e1e1e" stroke="#1e1e1e" stroke-width="0.22" textLength="42.50" lengthAdjust="spacingAndGlyphs" >High-risk</text>
<text id="lr3" x="532.40" y="589.30" font-size="10.8" fill="#1e1e1e" stroke="#1e1e1e" stroke-width="0.22" textLength="38.40" lengthAdjust="spacingAndGlyphs" >Low-risk</text>
<text id="yl3" x="0" y="0" font-size="10.5" fill="#1e1e1e" stroke="#1e1e1e" stroke-width="0.22" textLength="120.10" lengthAdjust="spacingAndGlyphs" transform="translate(452.90,546.90) rotate(-90)">Expression (log2 intensity)</text>
<text id="pb" x="276.80" y="610.20" font-size="11.3" fill="#1e1e1e" stroke="#1e1e1e" stroke-width="0.22" textLength="14.00" lengthAdjust="spacingAndGlyphs" >(b)</text>
<rect x="173.4" y="694.4" width="38.60" height="46.97" fill="#b40a0c"/>
<rect x="173.4" y="757.2" width="38.60" height="4.27" fill="#0e3a78"/>
<rect x="347.5" y="624.97" width="42.30" height="4.27" fill="#4a1862"/>
<path d="M211.7,696.53 C252.65,696.53 306.85,627.10 347.8,627.10" fill="none" stroke="url(#g0)" stroke-width="4.62"/>
<text id="dr0" x="392.30" y="630.70" font-size="11.0" fill="#1e1e1e" stroke="#1e1e1e" stroke-width="0.22" textLength="40.60" lengthAdjust="spacingAndGlyphs" >Nilotinib</text>
<rect x="347.5" y="644.64" width="42.30" height="4.27" fill="#0e3a7a"/>
<path d="M211.7,700.80 C252.65,700.80 306.85,646.78 347.8,646.78" fill="none" stroke="url(#g1)" stroke-width="4.62"/>
<text id="dr1" x="392.30" y="650.40" font-size="11.0" fill="#1e1e1e" stroke="#1e1e1e" stroke-width="0.22" textLength="50.10" lengthAdjust="spacingAndGlyphs" >Crenolanib</text>
<rect x="347.5" y="664.33" width="42.30" height="4.27" fill="#4a1a6a"/>
<path d="M211.7,705.07 C252.65,705.07 306.85,666.46 347.8,666.46" fill="none" stroke="url(#g2)" stroke-width="4.62"/>
<text id="dr2" x="392.30" y="670.10" font-size="11.0" fill="#1e1e1e" stroke="#1e1e1e" stroke-width="0.22" textLength="42.80" lengthAdjust="spacingAndGlyphs" >Dasatinib</text>
<rect x="347.5" y="684.00" width="42.30" height="4.27" fill="#b80a10"/>
<path d="M211.7,709.35 C252.65,709.35 306.85,686.14 347.8,686.14" fill="none" stroke="url(#g3)" stroke-width="4.62"/>
<text id="dr3" x="392.30" y="689.80" font-size="11.0" fill="#1e1e1e" stroke="#1e1e1e" stroke-width="0.22" textLength="54.90" lengthAdjust="spacingAndGlyphs" >Benzonatate</text>
<rect x="347.5" y="703.69" width="42.30" height="4.27" fill="#e2d41e"/>
<path d="M211.7,713.62 C252.65,713.62 306.85,705.82 347.8,705.82" fill="none" stroke="url(#g4)" stroke-width="4.62"/>
<text id="dr4" x="392.30" y="709.50" font-size="11.0" fill="#1e1e1e" stroke="#1e1e1e" stroke-width="0.22" textLength="53.30" lengthAdjust="spacingAndGlyphs" >Carboplatin</text>
<rect x="347.5" y="723.37" width="42.30" height="4.27" fill="#ea3c10"/>
<path d="M211.7,717.88 C252.65,717.88 306.85,725.50 347.8,725.50" fill="none" stroke="url(#g5)" stroke-width="4.62"/>
<text id="dr5" x="392.30" y="729.20" font-size="11.0" fill="#1e1e1e" stroke="#1e1e1e" stroke-width="0.22" textLength="41.60" lengthAdjust="spacingAndGlyphs" >Sunitinib</text>
<rect x="347.5" y="743.05" width="42.30" height="4.27" fill="#1c6c1c"/>
<path d="M211.7,722.15 C252.65,722.15 306.85,745.18 347.8,745.18" fill="none" stroke="url(#g6)" stroke-width="4.62"/>
<text id="dr6" x="392.30" y="748.90" font-size="11.0" fill="#1e1e1e" stroke="#1e1e1e" stroke-width="0.22" textLength="54.30" lengthAdjust="spacingAndGlyphs" >Regorafenib</text>
<rect x="347.5" y="762.73" width="42.30" height="4.27" fill="#4c4c52"/>
<path d="M211.7,726.42 C252.65,726.42 306.85,764.86 347.8,764.86" fill="none" stroke="url(#g7)" stroke-width="4.62"/>
<text id="dr7" x="392.30" y="768.40" font-size="11.0" fill="#1e1e1e" stroke="#1e1e1e" stroke-width="0.22" textLength="42.90" lengthAdjust="spacingAndGlyphs" >Paclitaxel</text>
<rect x="347.5" y="782.40" width="42.30" height="4.27" fill="#d4306e"/>
<path d="M211.7,730.69 C252.65,730.69 306.85,784.54 347.8,784.54" fill="none" stroke="url(#g8)" stroke-width="4.62"/>
<text id="dr8" x="392.30" y="788.20" font-size="11.0" fill="#1e1e1e" stroke="#1e1e1e" stroke-width="0.22" textLength="43.80" lengthAdjust="spacingAndGlyphs" >Ponatinib</text>
<rect x="347.5" y="802.09" width="42.30" height="4.27" fill="#5c1210"/>
<path d="M211.7,734.96 C252.65,734.96 306.85,804.22 347.8,804.22" fill="none" stroke="url(#g9)" stroke-width="4.62"/>
<text id="dr9" x="392.30" y="808.00" font-size="11.0" fill="#1e1e1e" stroke="#1e1e1e" stroke-width="0.22" textLength="40.00" lengthAdjust="spacingAndGlyphs" >Gefitinib</text>
<rect x="347.5" y="821.76" width="42.30" height="8.54" fill="#1c6c2a"/>
<path d="M211.7,739.24 C252.65,739.24 306.85,823.90 347.8,823.90" fill="none" stroke="url(#g10)" stroke-width="4.62"/>
<text id="dr10" x="392.30" y="830.60" font-size="11.0" fill="#1e1e1e" stroke="#1e1e1e" stroke-width="0.22" textLength="38.70" lengthAdjust="spacingAndGlyphs" >Imatinib</text>
<path d="M211.7,759.34 C252.65,759.34 306.85,828.17 347.8,828.17" fill="none" stroke="url(#gb)" stroke-width="4.47"/>
<text id="na" x="123.50" y="720.50" font-size="10.6" fill="#1e1e1e" stroke="#1e1e1e" stroke-width="0.22" textLength="43.30" lengthAdjust="spacingAndGlyphs" >PDGFRA</text>
<text id="nb" x="123.50" y="762.10" font-size="10.6" fill="#1e1e1e" stroke="#1e1e1e" stroke-width="0.22" textLength="42.80" lengthAdjust="spacingAndGlyphs" >PDGFRB</text>
<text id="pc" x="277.40" y="851.00" font-size="9.6" fill="#1e1e1e" stroke="#1e1e1e" stroke-width="0.22" textLength="12.10" lengthAdjust="spacingAndGlyphs" >(c)</text></svg>
</body></html>
